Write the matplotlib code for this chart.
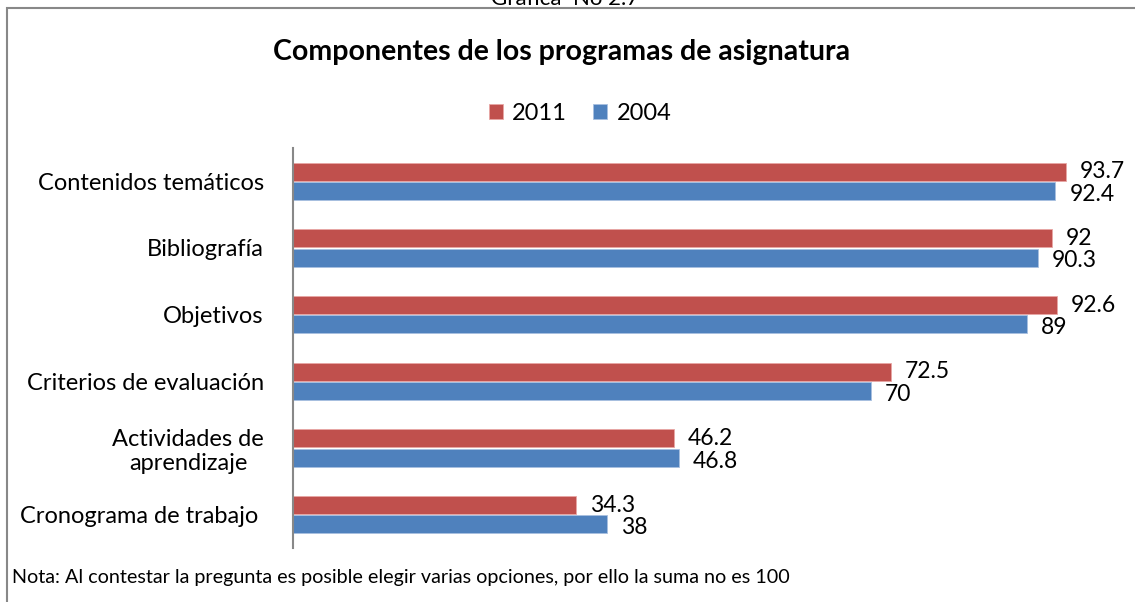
import matplotlib
matplotlib.use('Agg')
import matplotlib.pyplot as plt
import numpy as np
from matplotlib.patches import Rectangle

plt.rcParams['font.family'] = ['Lato', 'DejaVu Sans']

# data (top to bottom)
categories = ['Contenidos temáticos', 'Bibliografía', 'Objetivos',
              'Criterios de evaluación', 'Actividades de\naprendizaje',
              'Cronograma de trabajo ']
values_2011 = [93.7, 92, 92.6, 72.5, 46.2, 34.3]
values_2004 = [92.4, 90.3, 89, 70, 46.8, 38]
series_names = ['2011', '2004']
colors = ['#C0504D', '#4F81BD']

fig = plt.figure(figsize=(11.35, 6.02), dpi=100)
W, H = 1135, 602

# outer chart frame (cut at right/bottom like the source)
fig.patches.append(Rectangle((7 / W, -0.1), 1.2, (H - 8) / H + 0.1,
                             transform=fig.transFigure, fill=False,
                             edgecolor='#888888', linewidth=1.5))
fig.text(565 / W, 603 / H, 'Gráfica  No 2.7', ha='center', va='center',
         fontsize=16, color='black')

ax = fig.add_axes([293 / W, (H - 548) / H, 825 / W, 400 / H])
n = len(categories)
y = np.arange(n)[::-1].astype(float)
h = 0.27
bars1 = ax.barh(y + h / 2 + 0.01, values_2011, height=h, color=colors[0],
                edgecolor='#E8A6A4', linewidth=0.6, label=series_names[0])
bars2 = ax.barh(y - h / 2 - 0.01, values_2004, height=h, color=colors[1],
                edgecolor='#A8C0E0', linewidth=0.6, label=series_names[1])

for bars, vals, dy in ((bars1, values_2011, 0.0), (bars2, values_2004, -0.05)):
    for b, v in zip(bars, vals):
        ax.text(v + 1.7, b.get_y() + b.get_height() / 2 + dy, f'{v:g}',
                va='center', ha='left', fontsize=16.5)

ax.set_xlim(0, 100)
ax.set_ylim(-0.5, n - 0.5)
ax.set_yticks(y)
ax.set_yticklabels(categories, fontsize=17, linespacing=1.15)
ax.tick_params(axis='y', length=0, pad=21)
ax.set_xticks([])
for s in ['top', 'right', 'bottom']:
    ax.spines[s].set_visible(False)
ax.spines['left'].set_color('#888888')
ax.spines['left'].set_linewidth(1.5)
for lbl in ax.get_yticklabels():
    lbl.set_multialignment('center')

fig.text(562 / W, (H - 52) / H, 'Componentes de los programas de asignatura',
         ha='center', va='center', fontsize=20.5, fontweight='bold')
fig.legend(loc='center', bbox_to_anchor=(580 / W, (H - 113) / H), ncol=2,
           frameon=False, fontsize=17, handlelength=0.6, handleheight=0.6,
           handletextpad=0.4, columnspacing=1.1)
fig.text(12 / W, (H - 578) / H,
         'Nota: Al contestar la pregunta es posible elegir varias opciones, por ello la suma no es 100',
         ha='left', va='center', fontsize=14.2)

fig.savefig('out.png', dpi=100)
